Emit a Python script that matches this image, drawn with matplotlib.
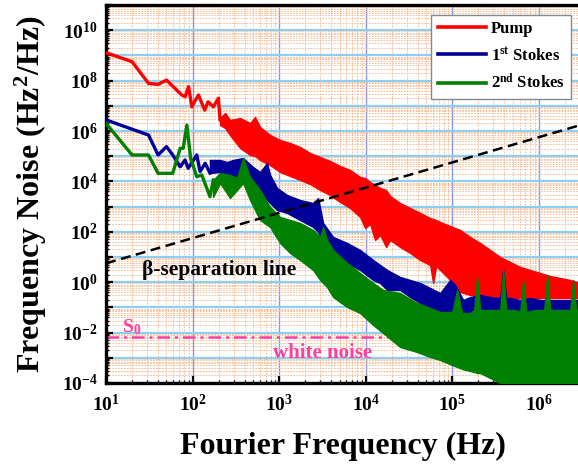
import matplotlib
matplotlib.use('Agg')
import matplotlib.pyplot as plt
import numpy as np
from matplotlib.ticker import LogLocator, NullFormatter

# ---------------- data ----------------
# noise values are given as decimal exponents: S = 10**value  (Hz^2/Hz)

# Pump: low-frequency trace
pump_f = [10, 20, 31, 40, 50, 75, 82, 90, 98, 117, 138, 151, 174, 199, 208]
pump_exp = [9.11, 8.75, 7.89, 7.85, 8.02, 7.43, 7.36, 7.76, 6.96, 7.43, 6.83,
            7.16, 6.96, 7.30, 6.44]
# Pump: dense noisy band (upper / lower envelope)
pump_band_f = [208, 238, 271, 354, 462, 527, 603, 787, 1027, 1340, 1749, 2282,
               2979, 3887, 5073, 6620, 8640, 9870, 11270, 12870, 14710, 17260,
               19200, 25050, 32700, 42670, 55680, 60300, 65300, 72660, 94820,
               123700, 161500, 210700, 275000, 358900, 468300, 611200, 797600,
               1.041e6, 1.358e6, 1.773e6, 2.313e6, 3.02e6]
pump_band_hi = [6.516, 6.714, 6.436, 6.516, 6.317, 6.555, 6.158, 5.841, 5.643,
                5.524, 5.365, 5.127, 4.968, 4.809, 4.611, 4.452, 4.174, 4.135,
                3.976, 3.857, 3.738, 3.659, 3.42, 3.142, 2.944, 2.746, 2.547,
                2.508, 2.468, 2.389, 2.23, 2.071, 1.794, 1.556, 1.278, 1.0,
                0.801, 0.603, 0.484, 0.365, 0.246, 0.167, 0.087, -0.032]
pump_band_lo = [6.238, 6.119, 5.841, 5.325, 5.048, 5.008, 4.849, 4.65, 4.373,
                4.214, 4.055, 3.897, 3.659, 3.46, 3.182, 2.944, 2.587, 2.151,
                2.309, 1.675, 1.873, 1.397, 1.675, 1.397, 1.159, 0.881, 0.683,
                -0.032, 0.643, 0.484, 0.087, -0.389, -0.508, -0.508, -0.548,
                -0.587, -0.627, -0.627, -0.627, -0.627, -0.627, -0.627, -0.627,
                -0.627]

# 1st Stokes
s1_f = [10, 31, 40, 50, 59, 72, 82, 89, 112, 122, 140, 159]
s1_exp = [6.44, 5.84, 5.05, 5.38, 5.05, 4.58, 4.85, 4.52, 5.05, 4.39, 4.72, 4.33]
s1_band_f = [159, 208, 250.5, 293.9, 383.6, 500.6, 603, 726.6, 787, 948.2, 1237,
             1749, 2473, 2824, 3226, 4210, 5073, 6112, 8640, 12210, 14710,
             17730, 25050, 32700, 42670, 55680, 72660, 94820, 108300, 134100,
             161500, 210700, 275000, 358900, 388700, 421000, 468300, 611200,
             797600, 1.041e6, 1.358e6, 1.773e6, 2.313e6, 3.02e6]
s1_band_hi = [4.849, 4.849, 4.77, 4.849, 4.928, 4.571, 4.373, 4.73, 4.254,
              3.738, 3.46, 3.262, 3.142, 3.341, 2.349, 1.794, 1.675, 1.556,
              1.278, 0.881, 0.683, 0.484, 0.206, 0.087, -0.032, -0.23, -0.429,
              0.087, -0.111, -0.706, -0.587, -0.508, -0.587, -0.627, 0.484,
              -0.627, -0.627, -0.706, -0.627, -0.706, -0.706, -0.706, -0.706,
              -0.706]
s1_band_lo = [4.333, 4.373, 4.174, 4.135, 4.055, 3.381, 3.341, 3.262, 3.142,
              2.865, 2.746, 2.468, 2.19, 1.992, 1.556, 1.159, 0.96, 0.762,
              0.484, 0.087, -0.032, -0.31, -0.31, -0.587, -0.825, -1.024,
              -1.183, -1.302, -1.341, -1.381, -1.421, -1.5, -1.5, -1.5, -1.5,
              -1.5, -1.5, -1.5, -1.5, -1.5, -1.5, -1.5, -1.5, -1.5]

# 2nd Stokes
s2_f = [10, 20, 31, 40, 59, 72, 78, 86, 95, 112, 128, 159, 174]
s2_exp = [6.305, 5.048, 5.048, 4.321, 4.321, 5.313, 5.313, 6.238, 4.917, 4.187,
          4.254, 3.393, 4.056]
s2_band_f = [172.6, 208, 271, 327, 383.6, 462, 603, 787, 1027, 1340, 1749,
             2473, 2979, 3226, 3588, 4210, 6112, 8640, 12210, 15930, 25050,
             39390, 55680, 72660, 100000, 114200, 130500, 161500, 179600,
             194500, 210700, 275000, 358900, 388700, 421000, 535000, 611200,
             662000, 717000, 911000, 1.158e6, 1.254e6, 1.358e6, 1.773e6,
             2.313e6, 2.505e6, 2.714e6, 3.02e6]
s2_band_hi = [4.055, 4.333, 4.254, 4.135, 4.928, 4.174, 3.659, 2.984, 2.587,
              2.468, 2.349, 2.071, 1.794, 2.19, 1.675, 1.278, 0.762, 0.365,
              -0.032, -0.31, -0.429, -0.825, -1.024, -1.183, -1.183, -0.31,
              -1.222, -1.222, -1.103, 0.206, -1.103, -1.103, -1.103, 0.484,
              -1.103, -1.103, -1.183, 0.087, -1.183, -1.103, -1.103, 0.286,
              -1.103, -1.103, -1.103, 0.087, -1.103, -1.103]
s2_band_lo = [3.381, 3.937, 3.341, 3.659, 3.937, 3.262, 2.468, 2.19, 1.556,
              1.159, 0.881, 0.484, 0.087, -0.032, -0.191, -0.587, -0.984,
              -1.222, -1.698, -2.016, -2.571, -2.77, -2.968, -3.087, -3.286,
              -3.365, -3.445, -3.524, -3.564, -3.604, -3.604, -3.802, -4.0,
              -4.3, -4.3, -4.3, -4.3, -4.3, -4.3, -4.3, -4.3, -4.3, -4.3, -4.3,
              -4.3, -4.3, -4.3, -4.3]

# beta-separation line and white-noise level S0
beta_f = [10, 3e6]
beta_S = [5.6, 1.7e6]
s0_f = [10, 3e6]
s0_S = [6.9e-3, 6.9e-3]

x_ticks = [1e1, 1e2, 1e3, 1e4, 1e5, 1e6]
x_ticklabels = [r'$10^{1}$', r'$10^{2}$', r'$10^{3}$', r'$10^{4}$',
                r'$10^{5}$', r'$10^{6}$']
y_exponents = list(range(-4, 12))

legend_labels = ['Pump', r'1$^{\rm st}$ Stokes', r'2$^{\rm nd}$ Stokes']


def val(e):
    return np.power(10.0, np.asarray(e, dtype=float))


# ---------------- style ----------------
plt.rcParams['font.family'] = ['Liberation Serif', 'DejaVu Serif']
plt.rcParams['font.weight'] = 'bold'
plt.rcParams['mathtext.fontset'] = 'custom'
plt.rcParams['mathtext.rm'] = 'Liberation Serif:bold'
plt.rcParams['mathtext.it'] = 'Liberation Serif:italic:bold'
plt.rcParams['mathtext.bf'] = 'Liberation Serif:bold'

RED = '#ff0000'
BLUE = '#000099'
GREEN = '#008000'
PINK = '#ff3fa0'

fig = plt.figure(figsize=(5.78, 4.65), dpi=100)
ax = fig.add_axes([106 / 578, 82 / 465, 474 / 578, 378 / 465])
ax.set_xscale('log')
ax.set_yscale('log')

# grid
ax.set_axisbelow(True)
ax.xaxis.set_minor_locator(LogLocator(base=10, subs=np.arange(2, 10), numticks=100))
ax.yaxis.set_minor_locator(LogLocator(base=10, subs=np.arange(2, 10), numticks=100))
ax.xaxis.set_minor_formatter(NullFormatter())
ax.yaxis.set_minor_formatter(NullFormatter())
ax.grid(True, which='minor', color='#f7b58a', ls=(0, (2, 1.5)), lw=0.6)
ax.xaxis.grid(True, which='major', color='#7d98f8', lw=1.0, ls='-')
ax.yaxis.grid(True, which='major', color='#8ccff5', lw=1.6, ls='-')

# white-noise line
ax.plot(s0_f, s0_S, color=PINK, lw=1.8, ls=(0, (5, 2, 1.2, 2)), zorder=2)

# traces
l1, = ax.plot(pump_f, val(pump_exp), color=RED, lw=2.4, zorder=3)
ax.fill_between(pump_band_f, val(pump_band_lo), val(pump_band_hi), color=RED,
                lw=1.0, edgecolor=RED, zorder=3)
l2, = ax.plot(s1_f, val(s1_exp), color=BLUE, lw=2.4, zorder=4)
ax.fill_between(s1_band_f, val(s1_band_lo), val(s1_band_hi), color=BLUE,
                lw=1.0, edgecolor=BLUE, zorder=4)
l3, = ax.plot(s2_f, val(s2_exp), color=GREEN, lw=2.4, zorder=5)
ax.fill_between(s2_band_f, val(s2_band_lo), val(s2_band_hi), color=GREEN,
                lw=1.0, edgecolor=GREEN, zorder=5)

# beta line
ax.plot(beta_f, beta_S, color='black', lw=1.8, ls=(0, (4, 2.2)), zorder=6)

# annotations
ax.text(26, 3.0, u'\u03b2-separation line', fontsize=15.5, fontweight='bold',
        color='black', ha='left', va='center', zorder=7)
ax.text(15.3, 1.6e-2, r'S$_0$', fontsize=14, color=PINK, ha='left',
        va='center', zorder=7)
ax.text(3140, 1.55e-3, 'white noise', fontsize=15, fontweight='bold',
        color=PINK, ha='center', va='center', zorder=7)

# ticks
ax.set_xticks(x_ticks)
ax.set_xticklabels(x_ticklabels)
ax.set_yticks([10.0 ** k for k in y_exponents])
ax.set_yticklabels([r'$10^{%d}$' % k if (k % 2 == 0 and k < 11) else ''
                    for k in y_exponents])
ax.set_xlim(10, 3e6)
ax.set_ylim(1e-4, 1e11)
ax.tick_params(which='major', direction='in', length=5, width=1.6,
               labelsize=14, pad=6)
ax.tick_params(which='minor', direction='in', length=2.5, width=1.0)
ax.tick_params(axis='x', which='major', pad=8)
for sp in ax.spines.values():
    sp.set_linewidth(2.4)

ax.set_xlabel('Fourier Frequency (Hz)', fontsize=23, fontweight='bold', labelpad=12)
ax.set_ylabel(r'Frequency Noise (Hz$^{2}$/Hz)', fontsize=23, fontweight='bold',
              labelpad=9)

leg = ax.legend([l1, l2, l3], legend_labels, loc='upper right',
                bbox_to_anchor=(571 / 578, 1 - 15 / 465),
                bbox_transform=fig.transFigure, borderaxespad=0,
                fontsize=12, frameon=True, fancybox=False, framealpha=1,
                edgecolor='#888888', handlelength=2.9, handletextpad=0.3,
                labelspacing=0.55, borderpad=0.38)
leg.get_frame().set_linewidth(1.0)
for t in leg.get_texts():
    t.set_fontweight('bold')
for h in leg.get_lines():
    h.set_linewidth(2.6)
leg.set_zorder(10)

fig.savefig('out.png', dpi=100)
